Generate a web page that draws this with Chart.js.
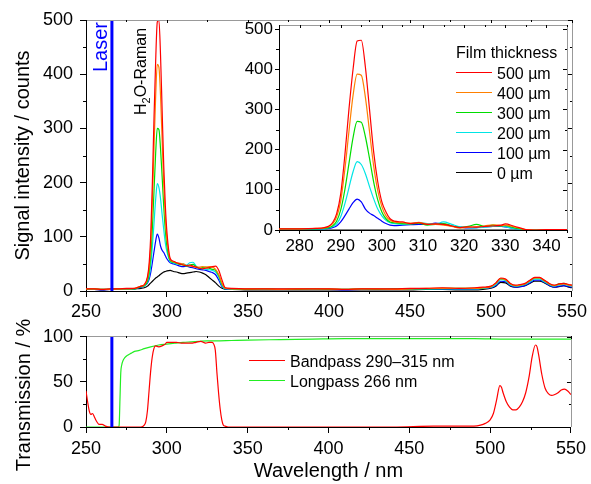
<!DOCTYPE html>
<html>
<head>
<meta charset="utf-8">
<script src="https://cdn.jsdelivr.net/npm/chart.js@4.4.1/dist/chart.umd.min.js"></script>
<style>
  body { margin: 0; background: #fff; }
  #wrap { position: relative; width: 591px; height: 484px; overflow: hidden; }
  canvas { position: absolute; left: 0; }
</style>
</head>
<body>
<div id="wrap">
  <canvas id="main" width="591" height="330" style="top:0"></canvas>
  <canvas id="trans" width="591" height="184" style="top:300px"></canvas>
  <canvas id="inset" width="591" height="280" style="top:0"></canvas>
</div>
<script>
// laser excitation wavelength (nm)
const laserWl = 266;

// tick labels
const wlTicks = [250, 300, 350, 400, 450, 500, 550];
const countTicks = [0, 100, 200, 300, 400, 500];
const insetWlTicks = [280, 290, 300, 310, 320, 330, 340];
const transTicks = [0, 50, 100];

// main spectra, signal counts vs wavelength
const wavelength = [250,255,260,265,270,275,280,284,286,288,289,290,291,292,293,294,295,296,297,298,299,300,302,304,306,308,310,312,314,316,318,320,322,324,326,328,330,332,334,336,340,350,360,370,380,390,400,410,420,430,440,450,460,470,480,490,495,500,503,506,509,512,515,518,521,524,527,530,533,536,539,542,545,548,550];
const film500 = [4,4,3,4,4,5,5, 9,12,27, 52,105,203,321,424,496,500,436,333,230,156,107, 60,55,52,50,48,47,48,46,44,42,41,42,43,45,46,38,20,6, 5, 4,4,4,4,4,4,3,4,4,4,5,5,6,5,6, 7,9, 15,24,22,14,11,12,14,20,25,25,20,14,11,13,14,12, 11];
const film400 = [4,4,3,3,4,4,5, 9,11,24, 44,87,168,266,359,418,413,361,278,195,134,95, 58,54,52,51,50,47,46,45,44,44,45,44,45,44,40,30,14,5, 4, 4,4,3,4,4,4,3,4,4,3,4,5,5,5,5, 6,8, 14,23,21,13,10,11,13,19,24,24,19,13,10,12,13,11, 10];
const film300 = [3,4,3,3,4,4,4, 8,10,19, 34,65,118,186,254,300,298,263,211,155,111,82, 56,53,51,49,48,46,48,49,45,42,43,44,42,40,38,28,12,5, 4, 3,4,3,3,4,3,3,4,3,4,4,4,5,5,5, 6,8, 14,23,21,13,10,11,13,19,24,24,19,13,10,13,14,11, 10];
const film200 = [3,3,3,3,3,4,4, 8,9,17, 27,48,83,126,169,198,191,171,141,113,88,72, 54,52,50,50,50,48,52,53,46,42,41,40,39,38,35,25,10,4, 4, 3,3,3,3,3,3,3,3,3,3,4,4,4,4,4, 5,7, 12,21,19,11,9,10,12,17,22,22,17,12,9,11,12,10, 9];
const film100 = [3,3,2,3,3,3,4, 7,9,15, 22,35,53,73,92,105,98,83,75,71,65,59, 52,50,48,46,45,46,44,43,41,40,39,38,36,34,30,20,8,4, 3, 3,3,3,3,3,3,2,3,3,3,3,3,4,4,4, 5,6, 10,18,17,10,7,8,10,15,20,20,16,10,7,9,10,8, 7];
const film0 = [3,3,2,3,3,3,4, 5,6,9, 12,15,18,21,24,26,28,31,33,35,36,37, 38,36,35,33,32,33,34,35,36,35,33,30,25,20,15,9,5,3, 3, 2,2,2,2,2,2,2,2,2,2,2,3,3,2,2, 3,5, 9,16,15,9,7,8,10,14,18,18,15,10,7,8,10,7, 6];

// inset: water Raman band (film signal minus 0 um)
const insetWl = [275,280,284,286,287,288,289,290,291,292,293,294,295,296,297,298,299,300,301,302,303,305,307,309,311,313,315,317,319,321,323,325,327,329,330,332,334,335,337,340,345];
const inset500 = [3,3,4,6, 9,18,40,90,185,300,400,470,472,405,300,195,120,70,45,28,22, 20,16,18,14,15,14,10,6,8,7,9,10,12, 15,10,4,1,0,1,1];
const inset400 = [3,3,4,5, 8,15,32,72,150,245,335,388,385,330,245,160,98,58,35,24,20, 18,17,19,15,14,12,9,5,7,8,10,13,11, 12,8,3,1,0,0,1];
const inset300 = [3,3,3,4, 6,10,22,50,100,165,230,270,268,232,178,120,75,45,28,20,18, 16,15,17,12,14,16,10,6,9,14,9,12,10, 11,6,2,0,0,0,0];
const inset200 = [2,2,3,3, 5,8,15,33,65,105,145,170,163,140,108,78,52,35,24,18,16, 14,16,18,16,15,20,14,8,6,5,7,9,10, 8,4,1,0,0,0,0];
const inset100 = [2,2,2,3, 4,6,10,20,35,52,68,77,70,52,42,36,29,22,16,12,11, 12,13,14,14,17,14,10,7,5,6,8,9,9, 8,4,1,0,0,0,0];
const inset0 = [0,0,0,0, 0,0,0,0,0,0,0,0,0,0,0,0,0,0,0,0,0, 0,0,0,0,0,0,0,0,0,0,0,0,0, 0,0,0,0,0,0,0];

// filter transmission (%)
const bandWl = [250,251,252,253,254,255,256,257,258,260,262,265,270,280,284,286,287,288,289,290,291,292,293,295,297,299,300,303,306,309,312,315,318,321,324,326,328,329,330,331,332,333,334,335,336,338,340,360,400,440,465,475,485,490,494,497,500,502,504,506,507,508,510,512,514,516,518,520,522,524,526,528,529,530,532,534,536,538,540,542,544,546,548,550];
const bandpass = [40,28,18,14,15,12,8,5,3,3,1,0,0,0,0,2,6,18,40,62,78,87,90,89,90,92,94,94,94,93,93,93,94,95,93,94,94,92,85,60,38,20,8,2,1,0,0,0,0,0,1,1,1,1,2,4,8,15,30,46,44,38,28,22,19,19,22,28,38,55,78,91,89,80,58,43,37,35,36,38,41,42,40,36];
const longWl = [250,260,270,270.5,271,271.5,272,273,274,276,278,280,283,286,290,295,300,305,310,315,320,325,330,340,350,370,390,410,430,450,470,490,510,530,550];
const longpass = [0,0,0,2,30,60,68,74,77,80,82,84,85,87,89,91,92,93,94,94.5,95,95.5,95.5,96,96.5,97,97.5,98,98,98,98,98,97.5,97.5,97.5];

const FONT = '"Liberation Sans", Arial, sans-serif';
Chart.defaults.font.family = FONT;
Chart.defaults.color = '#000';

function pts(xs, ys) {
  return xs.map((x, i) => ({x: x, y: ys[i]}));
}

function series(label, color, xs, ys) {
  return {
    label: label, data: pts(xs, ys),
    borderColor: color, backgroundColor: color, borderWidth: 1.2,
    pointRadius: 0, cubicInterpolationMode: 'monotone', fill: false
  };
}

function laserLine(top) {
  return {
    data: [{x: laserWl, y: 0}, {x: laserWl, y: top}],
    borderColor: '#0000ff', borderWidth: 3, pointRadius: 0, tension: 0
  };
}

function axis(o) {
  return {
    type: 'linear', min: o.min, max: o.max,
    afterBuildTicks: function (s) {
      s.ticks = o.ticks.map(v => ({value: v}));
    },
    afterFit: function (s) {
      if (o.w) s.width = o.w;
      if (o.h) s.height = o.h;
    },
    border: {color: '#000', width: 1},
    grid: {drawOnChartArea: false, color: '#000', tickLength: o.tl},
    ticks: {padding: o.pad, font: {size: o.fs}, maxRotation: 0, autoSkip: false},
    title: o.title ? {display: true, text: o.title, font: {size: 20}, padding: o.tpad} : {display: false}
  };
}

function isMult(v, step) {
  return Math.abs(v / step - Math.round(v / step)) < 1e-6;
}

// grey top/right frame, minor ticks and inner ticks
const axisFrame = {
  id: 'axisFrame',
  beforeDraw(chart, args, o) {
    if (!o.fill) return;
    const a = chart.chartArea;
    chart.ctx.save();
    chart.ctx.fillStyle = '#fff';
    chart.ctx.fillRect(a.left, a.top, a.right - a.left, a.bottom - a.top);
    chart.ctx.restore();
  },
  afterDraw(chart, args, o) {
    const ctx = chart.ctx, a = chart.chartArea;
    const sx = chart.scales.x, sy = chart.scales.y;
    ctx.save();
    ctx.lineWidth = 1;
    ctx.strokeStyle = '#999';
    ctx.beginPath();
    ctx.moveTo(a.left, Math.round(a.top) + 0.5);
    ctx.lineTo(Math.round(a.right) + 0.5, Math.round(a.top) + 0.5);
    ctx.lineTo(Math.round(a.right) + 0.5, a.bottom);
    ctx.stroke();
    ctx.strokeStyle = '#000';
    ctx.beginPath();
    for (let v = Math.ceil(sx.min / o.xMinor) * o.xMinor; v <= sx.max + 1e-9; v += o.xMinor) {
      const p = Math.round(sx.getPixelForValue(v)) + 0.5;
      const major = isMult(v, o.xMajor);
      if (!major) { ctx.moveTo(p, a.bottom); ctx.lineTo(p, a.bottom + 3); }
      ctx.moveTo(p, a.top); ctx.lineTo(p, a.top + (major ? 3 : 2));
    }
    for (let v = Math.ceil(sy.min / o.yMinor) * o.yMinor; v <= sy.max + 1e-9; v += o.yMinor) {
      const p = Math.round(sy.getPixelForValue(v)) + 0.5;
      const major = isMult(v, o.yMajor);
      if (!major) { ctx.moveTo(a.left, p); ctx.lineTo(a.left - 3, p); }
      ctx.moveTo(a.right, p); ctx.lineTo(a.right - (major ? 4 : 2), p);
    }
    ctx.stroke();
    ctx.restore();
  }
};

// line legend drawn inside the plot
const legendBox = {
  id: 'legendBox',
  afterDraw(chart, args, o) {
    if (o.x === undefined) return;
    const ctx = chart.ctx;
    ctx.save();
    ctx.font = '16px ' + FONT;
    ctx.fillStyle = '#000';
    if (o.title) ctx.fillText(o.title, o.x, o.titleY);
    let y = o.y;
    chart.data.datasets.forEach(function (ds) {
      if (!ds.label) return;
      ctx.strokeStyle = ds.borderColor;
      ctx.lineWidth = 1.2;
      ctx.beginPath();
      ctx.moveTo(o.x, y);
      ctx.lineTo(o.x + 36, y);
      ctx.stroke();
      ctx.fillText(ds.label, o.x + 41, y + 6);
      y += o.rowH;
    });
    ctx.restore();
  }
};

// rotated annotations in the main plot
const notes = {
  id: 'notes',
  afterDatasetsDraw(chart) {
    const ctx = chart.ctx, a = chart.chartArea, sx = chart.scales.x;
    ctx.save();
    ctx.translate(sx.getPixelForValue(laserWl) - 5, a.top + 52);
    ctx.rotate(-Math.PI / 2);
    ctx.font = '20px ' + FONT;
    ctx.fillStyle = '#0000ff';
    ctx.fillText('Laser', 0, 0);
    ctx.restore();

    ctx.save();
    ctx.translate(sx.getPixelForValue(287), a.top + 95);
    ctx.rotate(-Math.PI / 2);
    ctx.fillStyle = '#000';
    ctx.font = '16px ' + FONT;
    ctx.fillText('H', 0, 0);
    let w = ctx.measureText('H').width;
    ctx.font = '11px ' + FONT;
    ctx.fillText('2', w, 4);
    w += ctx.measureText('2').width;
    ctx.font = '16px ' + FONT;
    ctx.fillText('O-Raman', w, 0);
    ctx.restore();
  }
};

// y title of the transmission plot, sits a bit low in the original
const sideTitle = {
  id: 'sideTitle',
  afterDraw(chart, args, o) {
    if (!o.text) return;
    const ctx = chart.ctx;
    ctx.save();
    ctx.translate(o.x, o.y);
    ctx.rotate(-Math.PI / 2);
    ctx.font = '20px ' + FONT;
    ctx.fillStyle = '#000';
    ctx.textAlign = 'center';
    ctx.fillText(o.text, 0, 0);
    ctx.restore();
  }
};

const base = {
  responsive: false, devicePixelRatio: 1, animation: false,
  events: []
};

new Chart(document.getElementById('main'), {
  type: 'line',
  data: {
    datasets: [
      laserLine(500),
      series('500 µm', '#ff0000', wavelength, film500),
      series('400 µm', '#ff8000', wavelength, film400),
      series('300 µm', '#00dd00', wavelength, film300),
      series('200 µm', '#00e5e5', wavelength, film200),
      series('100 µm', '#0000ff', wavelength, film100),
      series('0 µm', '#000000', wavelength, film0)
    ]
  },
  options: Object.assign({}, base, {
    layout: {padding: {left: 0, top: 20, right: 17, bottom: 0}},
    plugins: {
      legend: {display: false}, tooltip: {enabled: false},
      axisFrame: {xMinor: 25, xMajor: 50, yMinor: 50, yMajor: 100}
    },
    scales: {
      x: axis({min: 250, max: 550, ticks: wlTicks, h: 39, tl: 6, pad: 4, fs: 18}),
      y: axis({min: 0, max: 500, ticks: countTicks, w: 86, tl: 6, pad: 7, fs: 18,
        title: 'Signal intensity / counts', tpad: {top: 11, bottom: 0}})
    }
  }),
  plugins: [axisFrame, notes]
});

new Chart(document.getElementById('trans'), {
  type: 'line',
  data: {
    datasets: [
      laserLine(101),
      series('Bandpass 290–315 nm', '#ff0000', bandWl, bandpass),
      series('Longpass 266 nm', '#22ee22', longWl, longpass)
    ]
  },
  options: Object.assign({}, base, {
    layout: {padding: {left: 0, top: 36, right: 17, bottom: 0}},
    plugins: {
      legend: {display: false}, tooltip: {enabled: false},
      axisFrame: {xMinor: 25, xMajor: 50, yMinor: 25, yMajor: 50},
      legendBox: {x: 249, y: 60.5, rowH: 20},
      sideTitle: {text: 'Transmission / %', x: 30, y: 95}
    },
    scales: {
      x: axis({min: 250, max: 550, ticks: wlTicks, h: 57, tl: 6, pad: 5, fs: 18,
        title: 'Wavelength / nm', tpad: {top: 0, bottom: 1}}),
      y: axis({min: 0, max: 101, ticks: transTicks, w: 86, tl: 6, pad: 7, fs: 18})
    }
  }),
  plugins: [axisFrame, legendBox, sideTitle]
});

new Chart(document.getElementById('inset'), {
  type: 'line',
  data: {
    datasets: [
      series('500 µm', '#ff0000', insetWl, inset500),
      series('400 µm', '#ff8000', insetWl, inset400),
      series('300 µm', '#00dd00', insetWl, inset300),
      series('200 µm', '#00e5e5', insetWl, inset200),
      series('100 µm', '#0000ff', insetWl, inset100),
      series('0 µm', '#000000', insetWl, inset0)
    ]
  },
  options: Object.assign({}, base, {
    layout: {padding: {left: 229, top: 25, right: 24, bottom: 20}},
    plugins: {
      legend: {display: false}, tooltip: {enabled: false},
      axisFrame: {fill: true, xMinor: 5, xMajor: 10, yMinor: 50, yMajor: 100},
      legendBox: {x: 456, y: 72.5, rowH: 20, title: 'Film thickness', titleY: 58}
    },
    scales: {
      x: axis({min: 275, max: 345, ticks: insetWlTicks, h: 30, tl: 4, pad: 2, fs: 17}),
      y: axis({min: 0, max: 510, ticks: countTicks, w: 50, tl: 4, pad: 2, fs: 17})
    }
  }),
  plugins: [axisFrame, legendBox]
});
</script>
</body>
</html>
